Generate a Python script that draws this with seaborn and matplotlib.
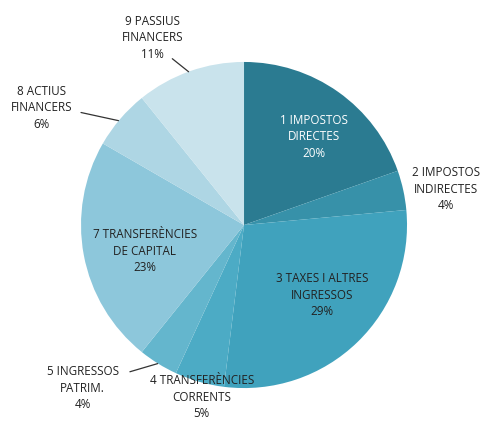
import matplotlib
matplotlib.use("Agg")
import matplotlib.pyplot as plt
import seaborn as sns

# Dades
categories = ["1 IMPOSTOS\nDIRECTES", "2 IMPOSTOS\nINDIRECTES", "3 TAXES I ALTRES\nINGRESSOS",
              "4 TRANSFERÈNCIES\nCORRENTS", "5 INGRESSOS\nPATRIM.", "7 TRANSFERÈNCIES\nDE CAPITAL",
              "8 ACTIUS\nFINANCERS", "9 PASSIUS\nFINANCERS"]
percentages = [20, 4, 29, 5, 4, 23, 6, 11]

colors = ["#2b7b91", "#3791a9", "#40a2bd", "#4cabc5", "#64b6cd", "#8dc7db", "#aed6e4", "#c9e3ec"]

sns.set_theme(style="white")
plt.rcParams['font.family'] = ['Open Sans', 'DejaVu Sans']

fig = plt.figure(figsize=(4.82, 4.21), dpi=100)
ax = fig.add_axes([0, 0, 1, 1])

wedges, _ = ax.pie(percentages, colors=colors, startangle=90, counterclock=False,
                   radius=1, wedgeprops=dict(linewidth=0))

ax.set_aspect('auto')
ax.set_xlim(-1.497, 1.460)
ax.set_ylim(-1.202, 1.380)
ax.axis('off')

# posicions de les etiquetes (en unitats del radi)
label_pos = [(0.43, 0.54), (1.24, 0.22), (0.48, -0.43), (-0.26, -1.055),
             (-0.99, -1.0), (-0.61, -0.16), (-1.24, 0.72), (-0.56, 1.15)]
text_colors = ["white", "#222222", "#222222", "#222222", "#222222", "#222222", "#222222", "#222222"]

for cat, pct, (x, y), c in zip(categories, percentages, label_pos, text_colors):
    ax.text(x, y, f"{cat}\n{pct}%", ha="center", va="center", fontsize=8.4,
            color=c, linespacing=1.35)

# línies guia
leaders = [((-0.44, 1.02), (-0.34, 0.94)),   # 9
           ((-1.00, 0.69), (-0.77, 0.64)),   # 8
           ((-0.70, -0.90), (-0.53, -0.85))]  # 5
for (x0, y0), (x1, y1) in leaders:
    ax.plot([x0, x1], [y0, y1], color="#333333", lw=0.9)

fig.savefig("out.png", dpi=100)
